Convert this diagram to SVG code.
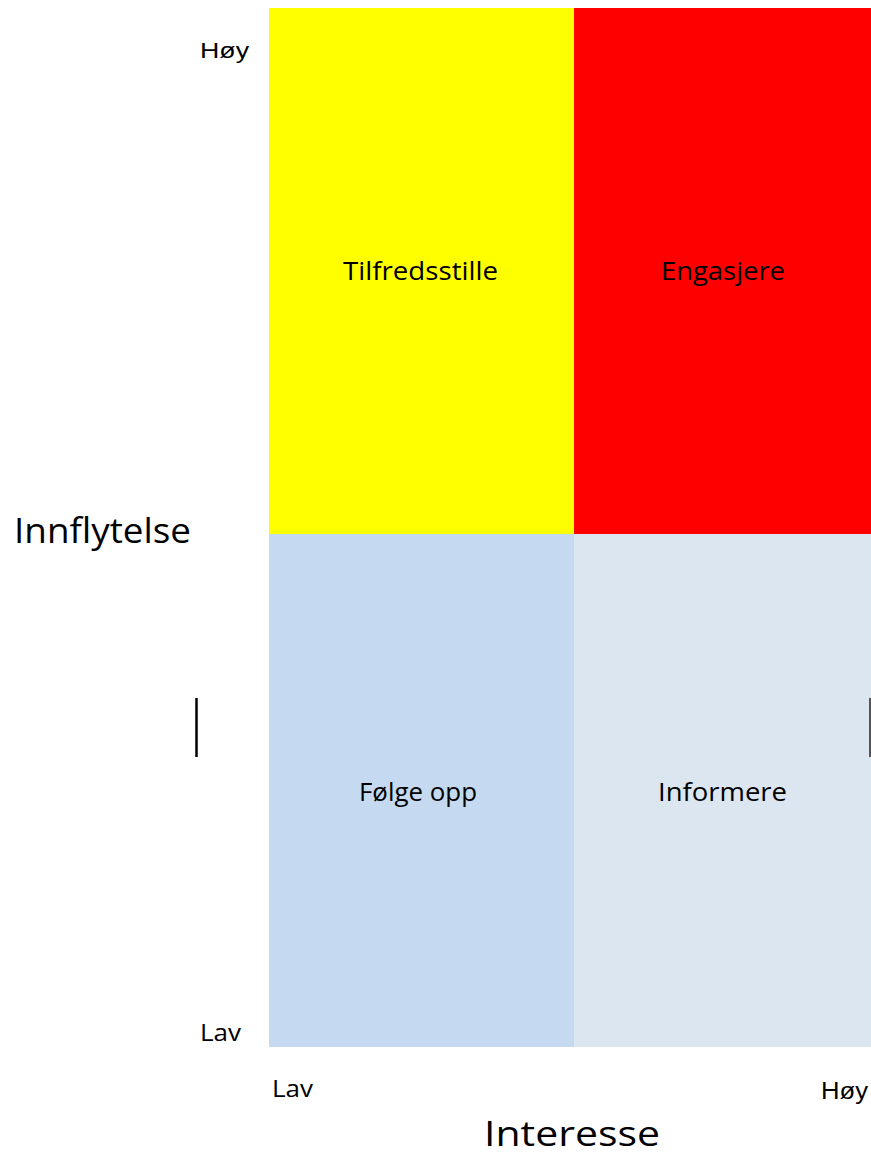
<svg xmlns="http://www.w3.org/2000/svg" width="871" height="1156" viewBox="0 0 871 1156">
<style>
.t{font-family:"Open Sans","Liberation Sans",sans-serif;fill:#000}
.a{font-family:"Liberation Sans",Arial,sans-serif;fill:#000}
</style>
<rect width="871" height="1156" fill="#fff"/>
<g id="q-tilfredsstille">
<rect x="269" y="8" width="305" height="526" fill="#FFFF00"/>
<text class="t" x="343" y="280" font-size="25" textLength="155" lengthAdjust="spacingAndGlyphs">Tilfredsstille</text>
</g>
<g id="q-engasjere">
<rect x="574" y="8" width="297" height="526" fill="#FF0000"/>
<text class="t" x="661" y="280" font-size="25" textLength="124" lengthAdjust="spacingAndGlyphs">Engasjere</text>
</g>
<g id="q-folge">
<rect x="269" y="534" width="305" height="513" fill="#C5D9F1"/>
<text class="t" x="359" y="801" font-size="25" textLength="118" lengthAdjust="spacingAndGlyphs">Følge opp</text>
</g>
<g id="q-informere">
<rect x="574" y="534" width="297" height="513" fill="#DCE6F1"/>
<text class="t" x="658" y="801" font-size="25" textLength="129" lengthAdjust="spacingAndGlyphs">Informere</text>
</g>
<g id="axis-y">
<text class="t" x="14" y="543" font-size="35" textLength="177" lengthAdjust="spacingAndGlyphs">Innflytelse</text>
<text class="a" x="200" y="58" font-size="22" textLength="49" lengthAdjust="spacingAndGlyphs">Høy</text>
<text class="t" x="200" y="1041" font-size="23" textLength="41" lengthAdjust="spacingAndGlyphs">Lav</text>
</g>
<g id="axis-x">
<text class="t" x="484" y="1146" font-size="34" textLength="176" lengthAdjust="spacingAndGlyphs">Interesse</text>
<text class="t" x="272" y="1097" font-size="23" textLength="41" lengthAdjust="spacingAndGlyphs">Lav</text>
<text class="a" x="821" y="1099" font-size="23" textLength="47" lengthAdjust="spacingAndGlyphs">Høy</text>
</g>
<g id="connectors">
<line x1="196.5" y1="698" x2="196.5" y2="757" stroke="#000" stroke-width="2.5"/>
<line x1="870" y1="698" x2="870" y2="757" stroke="#555" stroke-width="2"/>
</g>
</svg>
